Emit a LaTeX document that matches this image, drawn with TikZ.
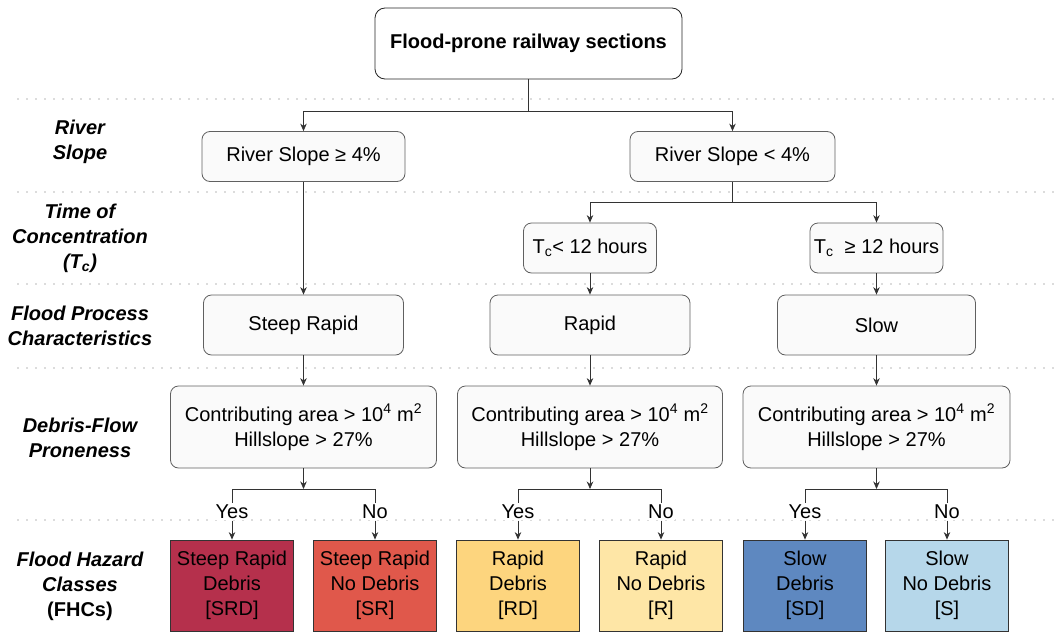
\documentclass[tikz,border=0pt]{standalone}
\usepackage{fontspec}
\setmainfont{Liberation Sans}
\usepackage{tikz}
\usetikzlibrary{arrows.meta,positioning}
\definecolor{cSRD}{HTML}{B5304C}
\definecolor{cSR}{HTML}{E0584B}
\definecolor{cRD}{HTML}{FDD57E}
\definecolor{cR}{HTML}{FEE6A6}
\definecolor{cSD}{HTML}{5E88C0}
\definecolor{cS}{HTML}{B6D7EA}
\definecolor{cLine}{HTML}{333333}

\begin{document}
\begin{tikzpicture}[x=1pt, y=-1pt, font=\fontsize{20}{25}\selectfont, >={Stealth[length=7.5pt,width=6.5pt]},
  box/.style={rounded corners=8pt, draw=gray!75!black, line width=0.8pt, fill=gray!4,
              align=center, inner sep=0pt},
  fhc/.style={draw=gray!40!black, line width=0.8pt, align=center, inner sep=0pt,
              minimum width=123pt, minimum height=91pt},
  lvl/.style={font=\fontsize{20}{25}\selectfont\bfseries\itshape, align=center},
  sep/.style={gray!55, line width=1.6pt, dash pattern=on 0pt off 9pt, line cap=round},
  ar/.style={->, line width=0.8pt, cLine},
  ln/.style={line width=0.8pt, cLine},
  ans/.style={fill=white, inner sep=1.5pt}]

  \useasboundingbox (0,0) rectangle (1058,632);

  % level separators
  \foreach \yy in {99,192,284,368,520} \draw[sep] (18,\yy) -- (1058,\yy);

  % level names
  \node[lvl] (lRiver) at (80,142) {River\\Slope};
  \node[lvl] (lTime)  at (80,238) {Time of\\Concentration\\(\textit{T}\textsubscript{\textit{c}})};
  \node[lvl] (lProc)  at (80,326) {Flood Process\\Characteristics};
  \node[lvl] (lDeb)   at (80,438) {Debris-Flow\\Proneness};
  \node[lvl] (lFhc)   at (80,586) {Flood Hazard\\Classes\\\upshape(FHCs)};

  % root
  \node[box, rounded corners=10pt, fill=white, draw=black!85, minimum width=307pt, minimum height=71pt,
        font=\fontsize{20}{25}\selectfont\bfseries] (top) at (528.5,43.5) {Flood-prone railway sections};

  % river slope
  \node[box, minimum width=203pt, minimum height=50pt] (rs1) at (303.5,156.5) {River Slope ≥ 4\%};
  \node[box, minimum width=205pt, minimum height=50pt] (rs2) at (732.5,156.5) {River Slope < 4\%};

  % time of concentration
  \node[box, minimum width=133pt, minimum height=50pt] (tc1) at (590,248) {T\textsubscript{c}< 12 hours};
  \node[box, minimum width=133pt, minimum height=50pt] (tc2) at (876.5,248) {T\textsubscript{c}\ \ ≥ 12 hours};

  % flood process
  \node[box, minimum width=200pt, minimum height=60pt] (fp1) at (303.5,325) {Steep Rapid};
  \node[box, minimum width=200pt, minimum height=60pt] (fp2) at (590,325) {Rapid};
  \node[box, minimum width=198pt, minimum height=60pt] (fp3) at (876.5,325) {Slow};

  % debris-flow proneness
  \node[box, minimum width=266pt, minimum height=82pt] (df1) at (303.5,427)
     {Contributing area > 10\textsuperscript{4} m\textsuperscript{2}\\Hillslope > 27\%};
  \node[box, minimum width=265pt, minimum height=82pt] (df2) at (590,427)
     {Contributing area > 10\textsuperscript{4} m\textsuperscript{2}\\Hillslope > 27\%};
  \node[box, minimum width=267pt, minimum height=82pt] (df3) at (876.5,427)
     {Contributing area > 10\textsuperscript{4} m\textsuperscript{2}\\Hillslope > 27\%};

  % flood hazard classes
  \node[fhc, fill=cSRD] (srd) at (232,585.5) {Steep Rapid\\Debris\\{[SRD]}};
  \node[fhc, fill=cSR]  (sr)  at (375,585.5) {Steep Rapid\\No Debris\\{[SR]}};
  \node[fhc, fill=cRD]  (rd)  at (518,585.5) {Rapid\\Debris\\{[RD]}};
  \node[fhc, fill=cR]   (r)   at (661,585.5) {Rapid\\No Debris\\{[R]}};
  \node[fhc, fill=cSD]  (sd)  at (805,585.5) {Slow\\Debris\\{[SD]}};
  \node[fhc, fill=cS]   (s)   at (947,585.5) {Slow\\No Debris\\{[S]}};

  % yes / no labels
  \node[ans] (y1) at (232,512) {Yes};  \node[ans] (n1) at (375,512) {No};
  \node[ans] (y2) at (518,512) {Yes};  \node[ans] (n2) at (661,512) {No};
  \node[ans] (y3) at (805,512) {Yes};  \node[ans] (n3) at (947,512) {No};

  % junctions
  \coordinate (j0) at (528.5,111);
  \coordinate (j1) at (732.5,202);
  \coordinate (k1) at (303.5,489);
  \coordinate (k2) at (590,489);
  \coordinate (k3) at (876.5,489);

  % connectors
  \draw[ln] (top) -- (j0);
  \draw[ar] (j0) -| (rs1);
  \draw[ar] (j0) -| (rs2);
  \draw[ar] (rs1) -- (fp1);
  \draw[ln] (rs2) -- (j1);
  \draw[ar] (j1) -| (tc1);
  \draw[ar] (j1) -| (tc2);
  \draw[ar] (tc1) -- (fp2);
  \draw[ar] (tc2) -- (fp3);
  \draw[ar] (fp1) -- (df1); \draw[ar] (fp2) -- (df2); \draw[ar] (fp3) -- (df3);
  \draw[ar] (df1) -- (k1); \draw[ar] (df2) -- (k2); \draw[ar] (df3) -- (k3);
  \draw[ln] (k1) -| (y1); \draw[ln] (k1) -| (n1);
  \draw[ln] (k2) -| (y2); \draw[ln] (k2) -| (n2);
  \draw[ln] (k3) -| (y3); \draw[ln] (k3) -| (n3);
  \draw[ar] (y1) -- (srd); \draw[ar] (n1) -- (sr);
  \draw[ar] (y2) -- (rd);  \draw[ar] (n2) -- (r);
  \draw[ar] (y3) -- (sd);  \draw[ar] (n3) -- (s);
\end{tikzpicture}
\end{document}
